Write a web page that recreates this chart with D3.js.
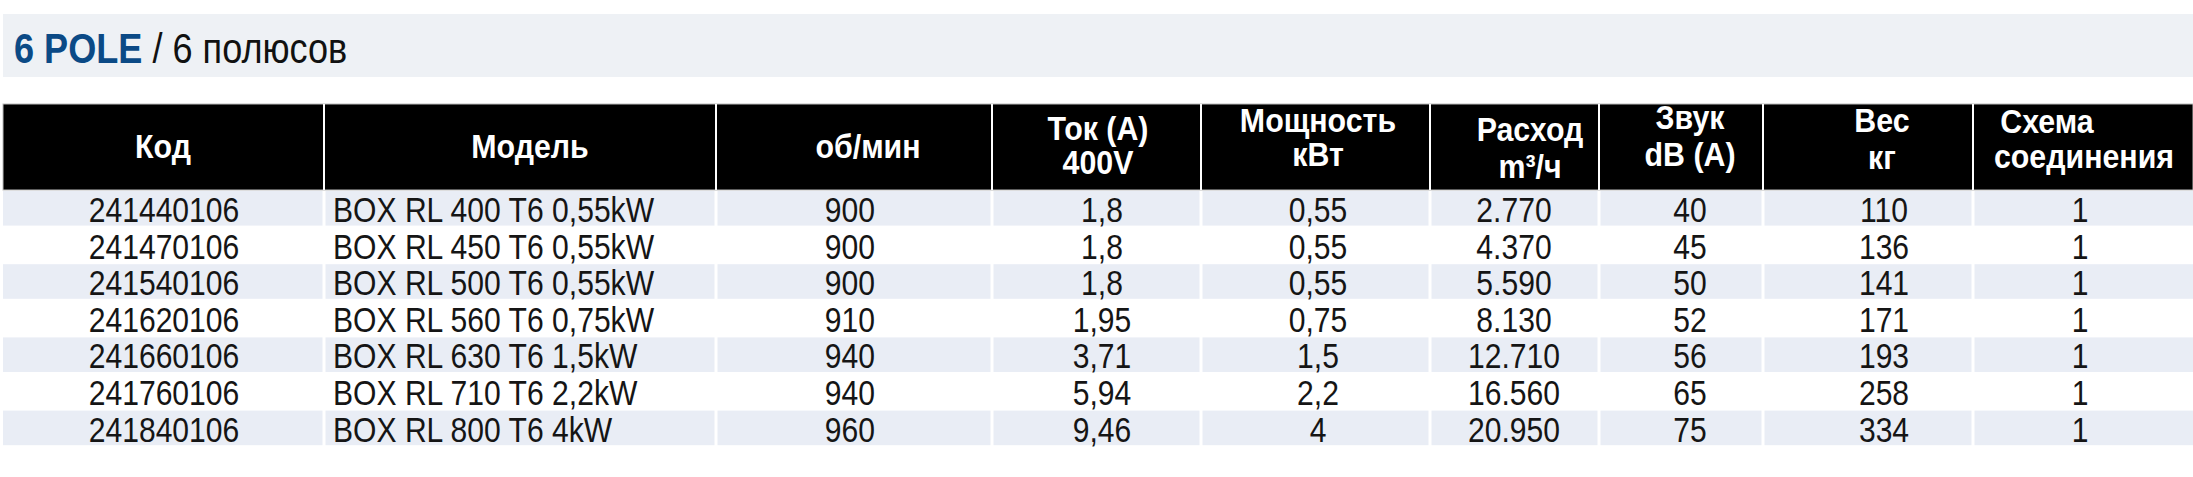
<!DOCTYPE html>
<html>
<head>
<meta charset="utf-8">
<script src="https://cdn.jsdelivr.net/npm/d3@7"></script>
<style>
  html, body { margin: 0; padding: 0; background: #fff; }
  svg { display: block; }
</style>
</head>
<body>
<div id="chart"></div>
<script>
// Données du tableau
const headers = [
  ["Код"], ["Модель"], ["об/мин"], ["Ток (A)", "400V"], ["Мощность", "кВт"],
  ["Расход", "m³/ч"], ["Звук", "dB (A)"], ["Вес", "кг"], ["Схема", "соединения"]
];
const codes = ["241440106", "241470106", "241540106", "241620106", "241660106", "241760106", "241840106"];
const models = ["BOX RL 400 T6 0,55kW", "BOX RL 450 T6 0,55kW", "BOX RL 500 T6 0,55kW", "BOX RL 560 T6 0,75kW",
  "BOX RL 630 T6 1,5kW", "BOX RL 710 T6 2,2kW", "BOX RL 800 T6 4kW"];
const rpm = ["900", "900", "900", "910", "940", "940", "960"];
const current = ["1,8", "1,8", "1,8", "1,95", "3,71", "5,94", "9,46"];
const power = ["0,55", "0,55", "0,55", "0,75", "1,5", "2,2", "4"];
const airflow = ["2.770", "4.370", "5.590", "8.130", "12.710", "16.560", "20.950"];
const sound = ["40", "45", "50", "52", "56", "65", "75"];
const weight = ["110", "136", "141", "171", "193", "258", "334"];
const scheme = ["1", "1", "1", "1", "1", "1", "1"];

const columns = [codes, models, rpm, current, power, airflow, sound, weight, scheme];

// Mise en page
const W = 2193, H = 477;
const edges = [3, 324, 716, 992, 1201, 1430, 1599, 1763, 1973, 2200];
const valueAnchor = [
  { x: 164, a: "middle" }, { x: 333, a: "start" }, { x: 875, a: "end" },
  { x: 1102, a: "middle" }, { x: 1318, a: "middle" }, { x: 1514, a: "middle" },
  { x: 1690, a: "middle" }, { x: 1884, a: "middle" }, { x: 2080, a: "middle" }
];
const headCenter = [163, 530, 868, 1098, 1318, 1530, 1690, 1882, 2047];
const headCenter2 = [163, 530, 868, 1098, 1318, 1530, 1690, 1882, 2084];
const headBase = [[158], [158], [158], [140, 174], [132, 166], [141, 178], [129, 166], [132, 169], [133, 168]];
const SX = 0.86, HSX = 0.92;
const FONT = "'Liberation Sans', Arial, sans-serif";

const svg = d3.select("#chart").append("svg")
  .attr("width", W).attr("height", H);

// Bandeau titre
svg.append("rect")
  .attr("x", 3).attr("y", 14).attr("width", W - 3).attr("height", 63)
  .attr("fill", "#eef1f5");

const title = svg.append("text")
  .attr("transform", `translate(14,63) scale(0.84,1)`)
  .attr("font-family", FONT).attr("font-size", 43);
title.append("tspan").attr("font-weight", 700).attr("fill", "#0b4a86").text("6 POLE");
title.append("tspan").attr("fill", "#111").text(" / 6 полюсов");

// En-tête noir
const headTop = 104, headBot = 190;
svg.append("rect")
  .attr("x", edges[0]).attr("y", headTop)
  .attr("width", W - edges[0]).attr("height", headBot - headTop)
  .attr("fill", "#000").attr("stroke", "#bbb").attr("stroke-width", 1);

svg.selectAll(".sep")
  .data(edges.slice(1, -1))
  .enter().append("line")
  .attr("x1", d => d).attr("x2", d => d)
  .attr("y1", headTop).attr("y2", headBot)
  .attr("stroke", "#fff").attr("stroke-width", 2);

headers.forEach((lines, i) => {
  lines.forEach((t, j) => {
    const cx = j === 0 ? headCenter[i] : headCenter2[i];
    svg.append("text")
      .attr("transform", `translate(${cx},${headBase[i][j]}) scale(${HSX},1)`)
      .attr("text-anchor", "middle")
      .attr("font-family", FONT).attr("font-size", 33).attr("font-weight", 700)
      .attr("fill", "#fff")
      .text(t);
  });
});

// Lignes
const y = d3.scaleBand()
  .domain(d3.range(codes.length))
  .range([headBot + 1, headBot + 1 + 36.6 * codes.length]);

y.domain().forEach(r => {
  if (r % 2 === 0) {
    svg.selectAll(null)
      .data(d3.range(edges.length - 1))
      .enter().append("rect")
      .attr("x", c => edges[c] + (c === 0 ? 0 : 1.5))
      .attr("width", c => edges[c + 1] - edges[c] - (c === 0 ? 1.5 : 3))
      .attr("y", y(r)).attr("height", y.bandwidth() - 2)
      .attr("fill", "#e9edf5");
  }
});

columns.forEach((vals, c) => {
  svg.selectAll(null)
    .data(vals)
    .enter().append("text")
    .attr("transform", (d, r) => `translate(${valueAnchor[c].x},${y(r) + 31}) scale(${SX},1)`)
    .attr("text-anchor", valueAnchor[c].a)
    .attr("font-family", FONT).attr("font-size", 35)
    .attr("fill", "#151515")
    .text(d => d);
});
</script>
</body>
</html>
